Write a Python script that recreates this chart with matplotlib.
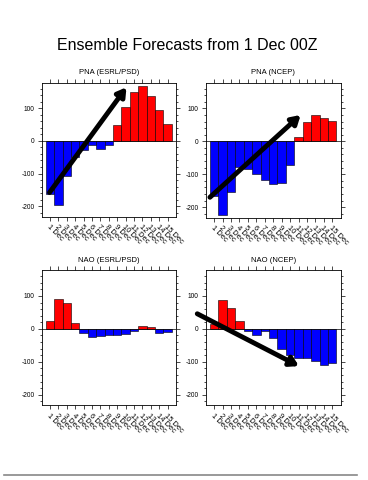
import matplotlib
matplotlib.use("Agg")
import matplotlib.pyplot as plt
from matplotlib.lines import Line2D
from matplotlib.ticker import MultipleLocator
import numpy as np

plt.rcParams['font.family'] = ['Liberation Sans', 'DejaVu Sans']

days = [f"{d} Dec" for d in range(1, 16)]
pna_esrl = [-163, -196, -108, -50, -27, -14, -25, -14, 48, 104, 149, 168, 137, 94, 52]
pna_ncep = [-165, -224, -154, -78, -85, -99, -119, -131, -128, -71, 14, 60, 79, 72, 63]
nao_esrl = [25, 91, 78, 18, -12, -24, -22, -19, -17, -16, -6, 10, 5, -13, -8]
nao_ncep = [15, 87, 62, 25, -6, -18, -6, -28, -62, -80, -88, -88, -98, -109, -103]

titles = ["PNA (ESRL/PSD)", "PNA (NCEP)", "NAO (ESRL/PSD)", "NAO (NCEP)"]
series = [pna_esrl, pna_ncep, nao_esrl, nao_ncep]
# annotation arrows (start, end) in data coordinates
arrows = [((0.93, -158), (10.1, 164)), ((0.5, -170), (11.25, 80)), None, ((-1.0, 46), (11.05, -113))]

W, H = 368, 480
fig = plt.figure(figsize=(W / 100, H / 100), dpi=100)

boxes = [(41.7, 82.7, 176, 216.7), (205.7, 82.7, 340.7, 217.7),
         (41.7, 270.3, 176, 405.3), (205.7, 270.3, 340.7, 405.3)]

for vals, title, box, arr in zip(series, titles, boxes, arrows):
    x0, y0, x1, y1 = box
    ax = fig.add_axes([x0 / W, 1 - y1 / H, (x1 - x0) / W, (y1 - y0) / H])
    x = np.arange(1, 16)
    v = np.array(vals)
    colors = ['#ff0000' if val > 0 else '#0000ff' for val in v]
    ax.bar(x, v, width=1.0, color=colors, edgecolor='black', linewidth=0.4, zorder=2)
    ax.axhline(0, color='black', linewidth=0.5, zorder=3)
    ax.set_xlim(0, 16)
    ax.set_ylim(-232, 178)
    ax.set_xticks(x)
    ax.set_xticklabels(days, rotation=-45, ha='left', va='top', rotation_mode='anchor', fontsize=5.4)
    ax.set_yticks([-200, -100, 0, 100])
    ax.set_yticklabels(["-200", "-100", "0", "100"], fontsize=4.8)
    ax.yaxis.set_minor_locator(MultipleLocator(20))
    ax.tick_params(axis='both', which='both', direction='out', top=True, right=True, width=0.5)
    ax.tick_params(axis='both', which='major', length=3, pad=2)
    ax.tick_params(axis='y', which='minor', length=1.5)
    for s in ax.spines.values():
        s.set_linewidth(0.6)
    ax.set_title(title, fontsize=5.5, pad=6)
    if arr is not None:
        (sx, sy), (ex, ey) = arr
        ax.annotate("", xy=(ex, ey), xytext=(sx, sy), xycoords='data',
                    arrowprops=dict(arrowstyle='-|>,head_length=0.5,head_width=0.3', color='black',
                                    lw=3.5, shrinkA=0, shrinkB=0),
                    zorder=5, annotation_clip=False)

fig.text(187 / W, 1 - 45 / H, "Ensemble Forecasts from 1 Dec 00Z", ha='center', va='center', fontsize=11.5)
fig.add_artist(Line2D([4 / W, 357 / W], [1 - 475 / H, 1 - 475 / H], color='#888888', linewidth=1.2))

fig.savefig("out.png", dpi=100)
